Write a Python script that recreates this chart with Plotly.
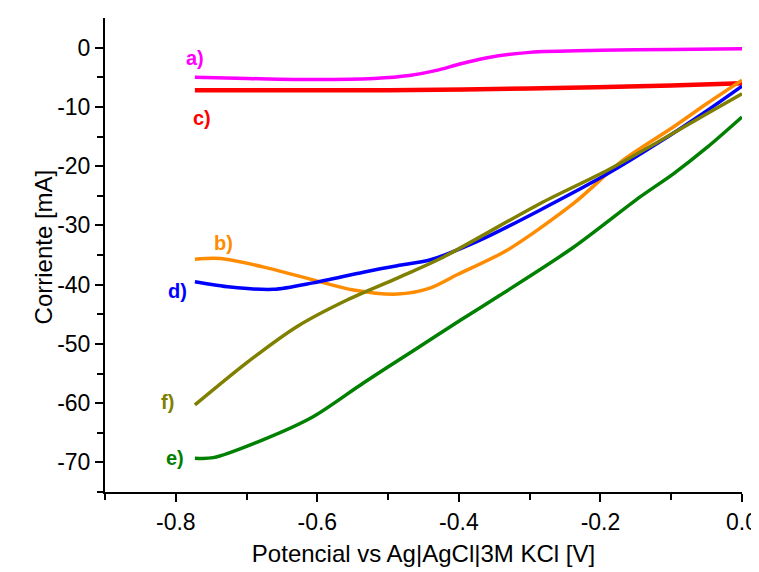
import plotly.graph_objects as go

# a) magenta
xa = [-0.773, -0.70, -0.60, -0.52, -0.47, -0.43, -0.40, -0.36, -0.30, -0.20, -0.10, 0.0]
ya = [-5.0, -5.2, -5.4, -5.2, -4.7, -3.8, -2.8, -1.7, -0.8, -0.45, -0.3, -0.2]
# c) red
xc = [-0.773, -0.60, -0.50, -0.30, -0.10, 0.0]
yc = [-7.2, -7.2, -7.2, -6.9, -6.4, -6.0]
# b) orange
xb = [-0.773, -0.737, -0.677, -0.606, -0.549, -0.487, -0.441, -0.402, -0.332, -0.238, -0.168, -0.097, -0.049, 0.0]
yb = [-35.7, -35.6, -37.0, -39.2, -40.9, -41.6, -40.6, -38.3, -34.2, -26.3, -19.0, -13.4, -9.4, -5.5]
# d) blue
xd = [-0.773, -0.723, -0.662, -0.606, -0.535, -0.487, -0.44, -0.37, -0.285, -0.19, -0.120, -0.049, 0.0]
yd = [-39.5, -40.4, -40.8, -39.7, -37.9, -36.8, -35.8, -32.5, -27.4, -21.3, -16.2, -10.6, -6.5]
# f) olive
xf = [-0.773, -0.70, -0.629, -0.558, -0.487, -0.426, -0.285, -0.19, -0.120, -0.049, 0.0]
yf = [-60.3, -53.2, -47.1, -42.6, -38.9, -35.6, -26.3, -20.7, -16.0, -11.1, -7.8]
# e) green
xe = [-0.773, -0.747, -0.677, -0.606, -0.535, -0.465, -0.398, -0.342, -0.238, -0.144, -0.097, -0.049, 0.0]
ye = [-69.3, -69.2, -66.2, -62.3, -56.6, -51.2, -46.0, -41.8, -33.7, -25.2, -21.3, -16.8, -11.7]

series = [
    (xa, ya, "#FF00FF", 3.5, "a)", -0.773, -1.8),
    (xc, yc, "#FF0000", 4.5, "c)", -0.763, -11.8),
    (xb, yb, "#FF8C00", 3.5, "b)", -0.733, -33.0),
    (xd, yd, "#0000FF", 3.5, "d)", -0.797, -41.1),
    (xf, yf, "#808000", 3.5, "f)", -0.812, -59.8),
    (xe, ye, "#008000", 3.5, "e)", -0.801, -69.3),
]

fig = go.Figure()
for xs, ys, col, w, lab, lx, ly in series:
    fig.add_trace(go.Scatter(x=xs, y=ys, mode="lines",
                             line=dict(color=col, width=w, shape="spline", smoothing=0.8),
                             showlegend=False))
    fig.add_annotation(x=lx, y=ly, text="<b>%s</b>" % lab, showarrow=False,
                       font=dict(family="Liberation Sans", size=20, color=col))

fig.add_annotation(xref="paper", yref="paper", x=-0.1217, y=0.518,
                   text="Corriente [mA]", textangle=-90, showarrow=False,
                   font=dict(family="Liberation Sans", size=24, color="black"))

fig.update_layout(
    width=751, height=564,
    margin=dict(l=97, r=17, t=10, b=80, autoexpand=False),
    paper_bgcolor="white", plot_bgcolor="white",
    font=dict(family="Liberation Sans", size=23, color="black"),
)
fig.update_xaxes(range=[-0.9, 0.0], tickvals=[-0.8, -0.6, -0.4, -0.2, 0.0],
                 ticktext=["-0.8", "-0.6", "-0.4", "-0.2", "0.0"],
                 showline=True, linecolor="black", linewidth=2,
                 ticks="outside", ticklen=8, tickwidth=2, tickcolor="black",
                 minor=dict(tickvals=[-0.9, -0.7, -0.5, -0.3, -0.1], ticks="outside", ticklen=6, tickwidth=2, tickcolor="black"),
                 showgrid=False, zeroline=False, automargin=False,
                 title=dict(text="Potencial vs Ag|AgCl|3M KCl [V]", font=dict(size=24), standoff=12))
fig.update_yaxes(range=[-75, 5], tickvals=[0, -10, -20, -30, -40, -50, -60, -70],
                 ticktext=["0", "-10", "-20", "-30", "-40", "-50", "-60", "-70"],
                 showline=True, linecolor="black", linewidth=2,
                 ticks="outside", ticklen=8, tickwidth=2, tickcolor="black",
                 minor=dict(tickvals=[-5, -15, -25, -35, -45, -55, -65, -75], ticks="outside", ticklen=6, tickwidth=2, tickcolor="black"),
                 showgrid=False, zeroline=False, automargin=False)

fig.write_html("out.html")
